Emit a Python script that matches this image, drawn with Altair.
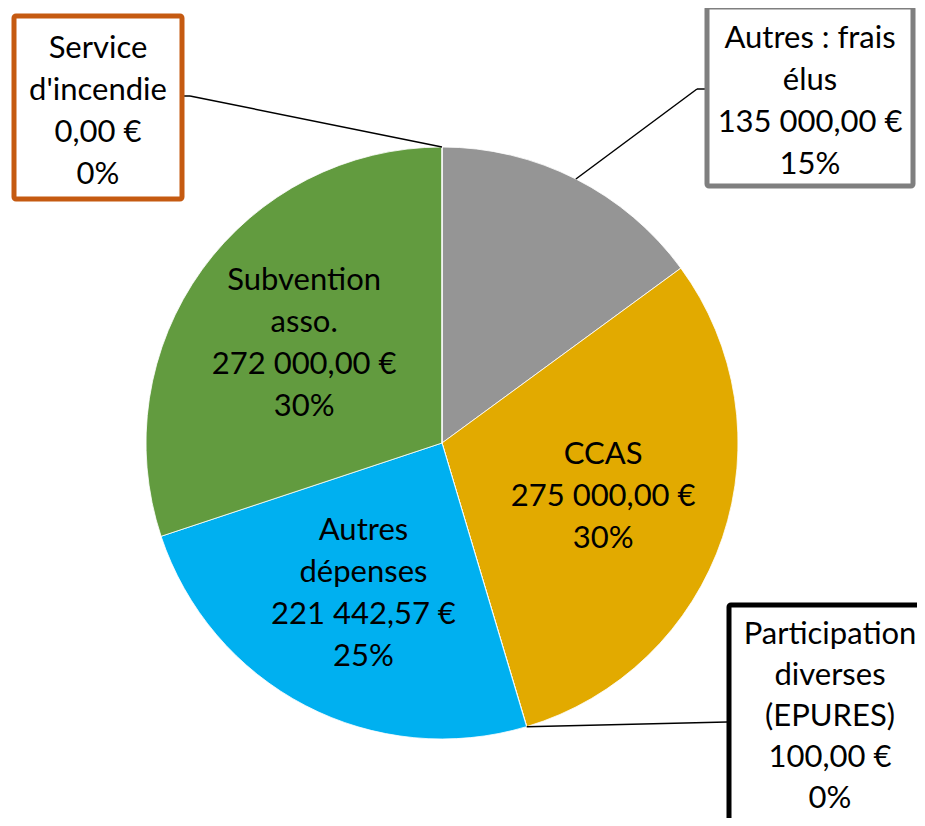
import math
import altair as alt
import pandas as pd

# ---- data ----
categories = ["Autres : frais élus", "CCAS", "Participation diverses (EPURES)",
              "Autres dépenses", "Subvention asso.", "Service d'incendie"]
values = [135000.00, 275000.00, 100.00, 221442.57, 272000.00, 0.00]
name_lines = [["Autres : frais", "élus"], ["CCAS"], ["Participation", "diverses", "(EPURES)"],
              ["Autres", "dépenses"], ["Subvention", "asso."], ["Service", "d'incendie"]]
colors = ["#959595", "#E2AA00", "#000000", "#00B0F0", "#629B3F", "#C55A11"]
inside = [False, True, False, True, True, False]

# ---- layout (chart pixel coords) ----
W, H = 909, 810
CX, CY, R = 434, 435, 296
R_LABEL = 170
FONT = "Lato"
FS = 31
LH = 42


def money(v):
    s = f"{v:,.2f}".replace(",", "\u00a0").replace(".", ",")
    return s + "\u00a0€"


def pt(angle, r=R):
    return CX + r * math.sin(angle), CY - r * math.cos(angle)


total = sum(values)
rows = []
cum = 0.0
for i, (c, v, nl, col, ins) in enumerate(zip(categories, values, name_lines, colors, inside)):
    a0 = cum / total * 2 * math.pi
    cum += v
    a1 = cum / total * 2 * math.pi
    pct = round(v / total * 100)
    lines = nl + [money(v), f"{pct}%"]
    amid = (a0 + a1) / 2
    lx, ly = pt(amid, R_LABEL)
    rows.append(dict(idx=i, cat=c, value=v, color=col, a0=a0, a1=a1, amid=amid,
                     label="\n".join(lines), nlines=len(lines), inside=ins,
                     lx=lx, ly=ly - (len(lines) - 1) / 2 * LH))
df = pd.DataFrame(rows)

# callout boxes (layout)
callouts = [
    dict(i=5, x0=6, y0=8, x1=174, y1=191, stroke="#C55A11", tx=90, ty=104, lh=LH,
         path=[(174, 88), (182, 88)], angle=df.loc[5, "a1"]),
    dict(i=0, x0=699, y0=-1, x1=905, y1=178, stroke="#7F7F7F", tx=802, ty=94, lh=LH,
         path=[(699, 81), (689, 81)], angle=df.loc[0, "amid"]),
    dict(i=2, x0=721, y0=597, x1=945, y1=840, stroke="#000000", tx=822, ty=709, lh=41,
         path=[(719, 714)], angle=df.loc[2, "amid"]),
]

boxes = pd.DataFrame([dict(x0=c["x0"], y0=c["y0"], x1=c["x1"], y1=c["y1"], stroke=c["stroke"])
                      for c in callouts])
text_style = dict(lineBreak="\n", font=FONT, fontSize=FS,
                  align="center", baseline="middle", color="black")

pie = alt.Chart(df).mark_arc(radius=R, stroke="white", strokeWidth=0.8).encode(
    theta=alt.Theta("value:Q", stack=True),
    order=alt.Order("idx:Q"),
    color=alt.Color("color:N", scale=None),
    x=alt.value(CX), y=alt.value(CY),
)

inner = df[df["inside"]][["lx", "ly", "label"]]
inner_text = alt.Chart(inner).mark_text(lineHeight=LH, **text_style).encode(
    x=alt.X("lx:Q", scale=None), y=alt.Y("ly:Q", scale=None), text="label:N",
)

segs = []
for c in callouts:
    pts = c["path"] + [pt(c["angle"])]
    for (xa, ya), (xb, yb) in zip(pts[:-1], pts[1:]):
        segs.append(dict(x=xa, y=ya, x2=xb, y2=yb))
segs = pd.DataFrame(segs)

leaders = alt.Chart(segs).mark_rule(color="black", strokeWidth=1.5).encode(
    x=alt.X("x:Q", scale=None), y=alt.Y("y:Q", scale=None),
    x2="x2:Q", y2="y2:Q",
)

box_marks = alt.Chart(boxes).mark_rect(fill="white", strokeWidth=5, cornerRadius=2).encode(
    x=alt.X("x0:Q", scale=None), x2="x1:Q",
    y=alt.Y("y0:Q", scale=None), y2="y1:Q",
    stroke=alt.Stroke("stroke:N", scale=None),
)

box_texts = []
for c in callouts:
    n = df.loc[c["i"], "nlines"]
    t = pd.DataFrame([dict(x=c["tx"], y=c["ty"] - (n - 1) / 2 * c["lh"],
                           label=df.loc[c["i"], "label"])])
    box_texts.append(alt.Chart(t).mark_text(lineHeight=c["lh"], **text_style).encode(
        x=alt.X("x:Q", scale=None), y=alt.Y("y:Q", scale=None), text="label:N",
    ))

chart = alt.layer(pie, inner_text, leaders, box_marks, *box_texts).properties(
    width=W, height=H, autosize="none", padding=0
).configure_view(stroke=None)

chart.save("out.html", embed_options={"renderer": "svg", "actions": False})
